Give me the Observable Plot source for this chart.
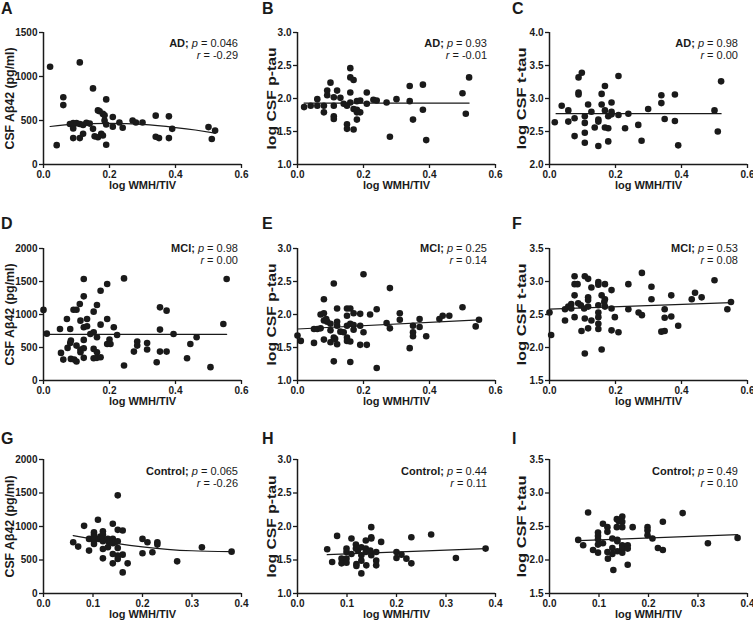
<!DOCTYPE html>
<html><head><meta charset="utf-8">
<script src="https://cdn.jsdelivr.net/npm/d3@7"></script>
<script src="https://cdn.jsdelivr.net/npm/@observablehq/plot@0.6"></script>
<style>
body{margin:0;background:#fff;}
#root{position:relative;width:753px;height:624px;font-family:"Liberation Sans",Arial,sans-serif;color:#1a1a1a;}
.panel{position:absolute;}
.panel svg{overflow:visible;background:transparent;}
.letter{position:absolute;font-weight:bold;font-size:16px;line-height:16px;}
.ann{position:absolute;font-size:11px;line-height:12px;text-align:right;white-space:nowrap;}
</style></head><body><div id="root"></div><script>
// ---------- data (x = log WMH/TIV, y = CSF measure) ----------
const panelA = [[0.02,1110],[0.04,220],[0.11,1160],[0.06,765],[0.06,675],[0.15,865],[0.19,740],[0.08,460],[0.09,470],[0.10,470],[0.11,460],[0.12,450],[0.09,410],[0.09,300],[0.11,300],[0.12,350],[0.13,475],[0.14,465],[0.15,405],[0.155,320],[0.165,615],[0.17,605],[0.18,575],[0.185,560],[0.165,310],[0.175,350],[0.18,330],[0.185,500],[0.19,455],[0.19,225],[0.21,540],[0.21,430],[0.23,478],[0.24,418],[0.27,500],[0.28,478],[0.30,478],[0.34,555],[0.34,315],[0.35,300],[0.38,547],[0.38,300],[0.39,405],[0.50,425],[0.51,290],[0.52,385]];
const panelB = [[0.02,1.87],[0.04,1.89],[0.06,1.99],[0.06,1.89],[0.08,1.79],[0.08,1.89],[0.09,2.12],[0.09,2.05],[0.10,2.24],[0.11,1.89],[0.11,2.02],[0.11,1.73],[0.11,1.69],[0.12,2.12],[0.13,2.01],[0.14,1.92],[0.15,1.89],[0.15,1.61],[0.15,1.54],[0.16,2.46],[0.16,2.32],[0.17,2.28],[0.16,2.09],[0.16,1.94],[0.17,1.84],[0.17,1.53],[0.18,1.83],[0.18,1.96],[0.18,1.68],[0.19,1.97],[0.19,1.79],[0.18,1.79],[0.21,2.09],[0.21,1.92],[0.23,1.98],[0.24,1.97],[0.27,1.94],[0.28,1.42],[0.30,1.99],[0.34,2.19],[0.34,1.96],[0.35,1.68],[0.38,2.21],[0.38,1.83],[0.39,1.37],[0.50,2.08],[0.51,1.77],[0.52,2.32]];
const panelC = [[0.016,2.64],[0.037,2.89],[0.057,2.82],[0.057,2.65],[0.076,2.43],[0.076,2.70],[0.088,3.32],[0.088,3.09],[0.088,3.06],[0.098,3.39],[0.107,2.73],[0.107,2.63],[0.107,2.48],[0.107,2.33],[0.117,2.91],[0.127,2.80],[0.137,2.56],[0.148,2.68],[0.148,2.65],[0.148,2.28],[0.158,3.07],[0.158,2.91],[0.168,3.19],[0.168,2.82],[0.168,2.56],[0.178,2.55],[0.178,2.73],[0.178,2.35],[0.188,2.94],[0.188,2.80],[0.188,2.76],[0.209,3.34],[0.209,2.75],[0.229,2.55],[0.239,2.77],[0.269,2.60],[0.279,2.36],[0.299,2.84],[0.339,3.05],[0.339,2.93],[0.349,2.69],[0.380,3.06],[0.380,2.66],[0.390,2.29],[0.500,2.82],[0.510,2.50],[0.520,3.26]];
const panelD = [[0.0,1070],[0.01,710],[0.05,781],[0.053,418],[0.06,317],[0.071,932],[0.073,494],[0.081,781],[0.081,569],[0.083,605],[0.083,327],[0.091,1073],[0.093,317],[0.10,1073],[0.10,287],[0.10,529],[0.11,1159],[0.112,907],[0.112,469],[0.112,428],[0.122,1537],[0.122,1275],[0.122,806],[0.122,615],[0.122,489],[0.122,343],[0.132,932],[0.132,821],[0.142,705],[0.152,1043],[0.152,731],[0.152,479],[0.152,338],[0.162,1144],[0.162,428],[0.162,343],[0.162,655],[0.173,1360],[0.173,846],[0.173,353],[0.193,1461],[0.193,932],[0.193,554],[0.20,620],[0.203,554],[0.213,806],[0.223,690],[0.244,1547],[0.244,227],[0.274,438],[0.284,590],[0.284,529],[0.314,569],[0.314,469],[0.343,277],[0.353,1108],[0.353,771],[0.353,438],[0.373,1058],[0.373,438],[0.394,705],[0.435,338],[0.445,554],[0.464,655],[0.506,202],[0.545,856],[0.555,1537]];
const panelE = [[0.0,1.68],[0.01,1.60],[0.05,1.57],[0.05,1.78],[0.06,1.78],[0.07,1.79],[0.07,2.00],[0.08,2.23],[0.08,2.02],[0.08,1.91],[0.08,1.62],[0.087,1.93],[0.09,1.89],[0.10,1.86],[0.10,1.76],[0.10,1.58],[0.11,2.47],[0.11,1.65],[0.11,1.29],[0.114,1.63],[0.12,2.09],[0.12,1.89],[0.12,1.83],[0.12,1.55],[0.13,1.74],[0.14,1.73],[0.15,2.09],[0.15,1.98],[0.15,1.83],[0.15,1.65],[0.15,1.60],[0.16,2.09],[0.16,1.86],[0.16,1.59],[0.16,1.28],[0.17,2.02],[0.17,1.84],[0.17,1.77],[0.19,2.01],[0.19,1.83],[0.19,1.54],[0.20,2.61],[0.20,1.73],[0.21,1.54],[0.22,2.00],[0.24,2.08],[0.24,1.19],[0.27,1.87],[0.28,2.40],[0.28,1.79],[0.31,2.02],[0.31,1.92],[0.34,1.49],[0.35,1.83],[0.35,1.73],[0.35,1.67],[0.37,1.93],[0.37,1.81],[0.39,1.67],[0.43,1.93],[0.44,1.98],[0.46,1.98],[0.50,2.11],[0.54,1.82],[0.55,1.92]];
const panelF = [[0.0,2.53],[0.005,2.19],[0.047,2.41],[0.047,2.58],[0.057,2.62],[0.066,2.66],[0.066,2.59],[0.076,2.79],[0.076,3.08],[0.076,2.96],[0.076,2.46],[0.085,2.96],[0.087,2.67],[0.095,2.64],[0.097,2.25],[0.105,2.59],[0.107,3.08],[0.107,2.44],[0.107,1.91],[0.117,3.04],[0.117,2.76],[0.117,2.72],[0.117,2.29],[0.117,2.62],[0.127,2.91],[0.127,2.41],[0.148,2.99],[0.148,2.95],[0.148,2.64],[0.148,2.53],[0.148,2.46],[0.148,2.36],[0.148,2.28],[0.158,2.79],[0.158,1.97],[0.166,2.69],[0.168,2.96],[0.168,2.73],[0.168,2.62],[0.188,2.87],[0.188,2.59],[0.188,2.26],[0.198,2.46],[0.209,2.23],[0.239,2.96],[0.239,2.58],[0.270,2.53],[0.280,2.49],[0.280,3.13],[0.309,2.92],[0.309,2.73],[0.339,2.24],[0.349,2.25],[0.349,2.58],[0.349,2.45],[0.369,2.79],[0.369,2.47],[0.390,2.33],[0.431,2.73],[0.441,2.83],[0.461,2.76],[0.500,3.02],[0.539,2.58],[0.550,2.69]];
const panelG = [[0.06,765],[0.07,700],[0.082,1010],[0.092,640],[0.092,815],[0.102,880],[0.102,915],[0.102,850],[0.102,780],[0.102,740],[0.11,1100],[0.112,815],[0.115,850],[0.12,930],[0.12,880],[0.12,815],[0.12,780],[0.12,665],[0.12,525],[0.13,815],[0.13,690],[0.132,765],[0.135,780],[0.14,1040],[0.14,815],[0.14,750],[0.14,590],[0.14,450],[0.145,765],[0.15,1465],[0.15,950],[0.15,780],[0.15,680],[0.15,565],[0.15,515],[0.16,940],[0.16,580],[0.16,315],[0.17,450],[0.20,815],[0.20,600],[0.21,765],[0.22,615],[0.23,765],[0.23,730],[0.27,480],[0.32,690],[0.38,625]];
const panelH = [[0.06,1.66],[0.07,1.47],[0.08,1.86],[0.089,1.52],[0.089,1.45],[0.099,1.67],[0.099,1.62],[0.099,1.52],[0.099,1.46],[0.109,1.82],[0.109,1.59],[0.118,1.73],[0.118,1.67],[0.119,1.44],[0.119,1.41],[0.122,1.64],[0.129,1.69],[0.129,1.57],[0.129,1.49],[0.129,1.30],[0.138,1.79],[0.138,1.67],[0.138,1.62],[0.139,1.42],[0.149,1.99],[0.149,1.84],[0.149,1.82],[0.149,1.57],[0.147,1.64],[0.159,1.62],[0.159,1.49],[0.159,1.42],[0.169,1.77],[0.20,1.62],[0.20,1.53],[0.21,1.58],[0.22,1.52],[0.23,1.84],[0.23,1.45],[0.27,1.88],[0.32,1.53],[0.38,1.67]];
const panelI = [[0.058,2.30],[0.068,2.22],[0.078,2.71],[0.088,2.15],[0.098,2.41],[0.098,2.36],[0.098,2.31],[0.098,2.23],[0.098,2.11],[0.108,2.54],[0.108,2.25],[0.117,2.49],[0.117,2.42],[0.117,2.12],[0.118,2.02],[0.127,2.32],[0.127,2.18],[0.127,2.09],[0.129,1.85],[0.136,2.61],[0.136,2.49],[0.137,2.30],[0.137,2.28],[0.137,2.13],[0.14,2.58],[0.147,2.65],[0.147,2.57],[0.147,2.49],[0.147,2.22],[0.147,2.17],[0.147,2.11],[0.158,2.22],[0.158,2.17],[0.158,1.93],[0.168,2.49],[0.198,2.49],[0.198,2.44],[0.198,2.37],[0.208,2.32],[0.219,2.18],[0.229,2.57],[0.229,2.15],[0.269,2.70],[0.32,2.25],[0.38,2.33]];

// fitted lines
const fitA = [[0.02,432],[0.1,458],[0.2,468],[0.3,455],[0.4,420],[0.46,392],[0.52,357]];
const fitB = [[0.02,1.93],[0.52,1.93]];
const fitC = [[0.02,2.77],[0.52,2.77]];
const fitD = [[0.0,700],[0.555,700]];
const fitE = [[0.0,1.78],[0.55,1.92]];
const fitF = [[0.0,2.58],[0.55,2.68]];
const fitG = [[0.06,865],[0.1,812],[0.15,745],[0.2,695],[0.25,660],[0.3,638],[0.38,625]];
const fitH = [[0.06,1.58],[0.38,1.67]];
const fitI = [[0.06,2.29],[0.38,2.38]];

// ticks and labels
const xTicksWide = [0, 0.2, 0.4, 0.6];
const xTicksNarrow = [0, 0.1, 0.2, 0.3, 0.4];
const abTicksAD = [0, 500, 1000, 1500];
const abTicks = [0, 500, 1000, 1500, 2000];
const ptauTicks = [1.0, 1.5, 2.0, 2.5, 3.0];
const ttauTicksAD = [2.0, 2.5, 3.0, 3.5, 4.0];
const ttauTicks = [1.5, 2.0, 2.5, 3.0, 3.5];
const yLabels = ["CSF A\u03b242 (pg/ml)", "log CSF p-tau", "log CSF t-tau"];
const xLabel = "log WMH/TIV";
const letters = ["A","B","C","D","E","F","G","H","I"];
const groups = ["AD", "MCI", "Control"];
const pValues = ["0.046","0.93","0.98","0.98","0.25","0.53","0.065","0.44","0.49"];
const rValues = ["-0.29","-0.01","0.00","0.00","0.14","0.08","-0.26","0.11","0.10"];

// ---------- build ----------
const data = [panelA,panelB,panelC,panelD,panelE,panelF,panelG,panelH,panelI];
const fits = [fitA,fitB,fitC,fitD,fitE,fitF,fitG,fitH,fitI];
const yTicksAll = [abTicksAD,ptauTicks,ttauTicksAD,abTicks,ptauTicks,ttauTicks,abTicks,ptauTicks,ttauTicks];

const colLeft = [0, 250, 500];
const axisLeft = [43, 297, 549];
const rowTop = [0, 205, 410];
const plotTop = [32, 248, 459];
const plotBottom = [164, 380, 593];
const svgH = [205, 205, 214];
const ylabDx = [-33, -25, -27];
const letterTop = [1, 216, 431];
const letterLeft = [1, 262, 512];
const annTop = [37, 242, 465];
const annRight = [238, 487, 738];
const ink = "#1a1a1a";

const root = document.getElementById("root");
for (let i = 0; i < 9; i++) {
  const r = Math.floor(i / 3), c = i % 3;
  const width = c === 2 ? 253 : 250;
  const ml = axisLeft[c] - colLeft[c];
  const mt = plotTop[r] - rowTop[r];
  const mb = rowTop[r] + svgH[r] - plotBottom[r];
  const mr = width - ml - 198;
  const xt = r === 2 ? xTicksNarrow : xTicksWide;
  const yt = yTicksAll[i];
  const isAb = c === 0;
  const curved = (i === 0 || i === 6);
  const chart = Plot.plot({
    width, height: svgH[r],
    marginLeft: ml, marginRight: mr, marginTop: mt, marginBottom: mb,
    style: {fontFamily: '"Liberation Sans", Arial, sans-serif', fontSize: "10px", fontWeight: "bold", background: "transparent", overflow: "visible", color: ink},
    x: {domain: [xt[0], xt[xt.length - 1]]},
    y: {domain: [yt[0], yt[yt.length - 1]]},
    marks: [
      Plot.axisX({ticks: xt, tickSize: 4, tickPadding: 2, tickFormat: d => d.toFixed(1), label: null, strokeWidth: 1.3}),
      Plot.axisY({ticks: yt, tickSize: 4, tickPadding: 2, tickFormat: d => isAb ? String(d) : d.toFixed(1), label: null, strokeWidth: 1.3}),
      Plot.ruleX([xt[0]], {stroke: ink, strokeWidth: 1.5}),
      Plot.ruleY([yt[0]], {stroke: ink, strokeWidth: 1.5}),
      Plot.line(fits[i], {x: d => d[0], y: d => d[1], curve: curved ? "natural" : "linear", stroke: ink, strokeWidth: 1.2}),
      Plot.dot(data[i], {x: d => d[0], y: d => d[1], r: 3.3, fill: ink, stroke: "none"}),
      Plot.text([yLabels[c]], {text: d => d, frameAnchor: "left", textAnchor: "middle", rotate: -90, dx: ylabDx[c], fontSize: 12, fontWeight: "bold", fill: ink}),
      Plot.text([xLabel], {text: d => d, frameAnchor: "bottom", dy: 24, fontSize: 11, fontWeight: "bold", fill: ink})
    ]
  });
  // stretch the y-axis title along its length, as in the reference
  d3.select(chart).selectAll("text").filter(function() { return this.textContent === yLabels[c]; })
    .attr("textLength", 102).attr("lengthAdjust", "spacingAndGlyphs");
  const div = document.createElement("div");
  div.className = "panel";
  div.style.left = colLeft[c] + "px";
  div.style.top = rowTop[r] + "px";
  div.appendChild(chart);
  root.appendChild(div);

  const L = document.createElement("div");
  L.className = "letter";
  L.style.left = letterLeft[c] + "px";
  L.style.top = letterTop[r] + "px";
  L.textContent = letters[i];
  root.appendChild(L);

  const A = document.createElement("div");
  A.className = "ann";
  A.style.top = annTop[r] + "px";
  A.style.right = (753 - annRight[c]) + "px";
  A.innerHTML = `<b>${groups[r]};</b> <i>p</i> = ${pValues[i]}<br><i>r</i> = ${rValues[i]}`;
  root.appendChild(A);
}
</script></body></html>
